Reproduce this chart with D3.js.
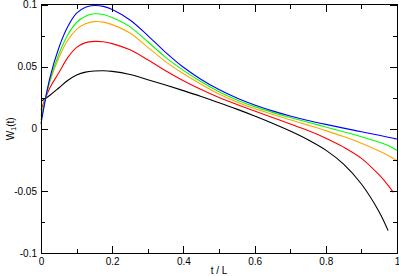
<!DOCTYPE html>
<html>
<head>
<meta charset="utf-8">
<script src="https://cdn.jsdelivr.net/npm/d3@7"></script>
<style>
  html, body { margin: 0; padding: 0; background: #fff; }
  svg { display: block; }
  text { font-family: "Liberation Sans", Arial, Helvetica, sans-serif; }
</style>
</head>
<body>
<svg id="chart" width="399" height="276"></svg>
<script>
// ---- data ----
const tGrid = [0, 0.025, 0.05, 0.075, 0.1, 0.125, 0.15, 0.175, 0.2, 0.25, 0.3, 0.35, 0.4, 0.45, 0.5, 0.55, 0.6, 0.65, 0.7, 0.75, 0.8, 0.85, 0.9, 0.95, 0.975, 0.99, 1.0];

const blueW = [0.004, 0.041, 0.065, 0.082, 0.093, 0.0978, 0.0992, 0.0985, 0.096, 0.0875, 0.075, 0.0615, 0.0495, 0.0397, 0.0315, 0.0247, 0.0191, 0.0144, 0.0103, 0.0067, 0.0035, 0.0005, -0.0024, -0.0053, -0.0068, -0.0077, -0.0083];
const greenW = [0.007, 0.039, 0.060, 0.0755, 0.0855, 0.0905, 0.0925, 0.092, 0.0895, 0.082, 0.070, 0.0575, 0.047, 0.0378, 0.0298, 0.0232, 0.0178, 0.0132, 0.0091, 0.0052, 0.0014, -0.0024, -0.0064, -0.0108, -0.0135, -0.0157, -0.0175];
const orangeW = [0.010, 0.038, 0.057, 0.0712, 0.080, 0.0845, 0.0862, 0.0858, 0.0838, 0.077, 0.0655, 0.054, 0.0442, 0.0358, 0.0279, 0.0216, 0.0163, 0.0116, 0.0072, 0.0029, -0.0015, -0.0063, -0.0117, -0.018, -0.0216, -0.024, -0.0258];
const redW = [0.015, 0.033, 0.045, 0.0572, 0.0655, 0.0693, 0.0703, 0.070, 0.0685, 0.0635, 0.0555, 0.0467, 0.0387, 0.0316, 0.0252, 0.0196, 0.0143, 0.0091, 0.0039, -0.0015, -0.0076, -0.0148, -0.0238, -0.0372, -0.0455, -0.0512, null];
const blackW = [0.022, 0.027, 0.0328, 0.0388, 0.0432, 0.0456, 0.0465, 0.0467, 0.0462, 0.0437, 0.0395, 0.0352, 0.0307, 0.026, 0.021, 0.0158, 0.0103, 0.0045, -0.0018, -0.0088, -0.0172, -0.0285, -0.0445, -0.067, -0.082, null, null];

const seriesNames = ["black", "red", "orange", "green", "blue"];
const seriesValues = [blackW, redW, orangeW, greenW, blueW];
const seriesColors = ["#000000", "#ff0000", "#ffa500", "#00ff00", "#0000ff"];

const xTicks = [0, 0.2, 0.4, 0.6, 0.8, 1];
const xTickLabels = ["0", "0.2", "0.4", "0.6", "0.8", "1"];
const xMinor = [0.1, 0.3, 0.5, 0.7, 0.9];
const yTicks = [-0.1, -0.05, 0, 0.05, 0.1];
const yTickLabels = ["-0.1", "-0.05", "0", "0.05", "0.1"];
const yMinor = [-0.075, -0.025, 0.025, 0.075];

// ---- layout ----
const svg = d3.select("#chart");
const mLeft = 41, mRight = 397, mTop = 4.5, mBottom = 253;

const x = d3.scaleLinear().domain([0, 1]).range([mLeft, mRight]);
const y = d3.scaleLinear().domain([-0.1, 0.1]).range([mBottom, mTop]);

// curves
const line = d3.line()
  .defined(d => d.v !== null)
  .x(d => x(d.t))
  .y(d => y(d.v))
  .curve(d3.curveCatmullRom.alpha(0.5));

const g = svg.append("g");
seriesValues.forEach((vals, i) => {
  const pts = tGrid.map((t, k) => ({ t: t, v: vals[k] }));
  g.append("path")
    .datum(pts)
    .attr("fill", "none")
    .attr("stroke", seriesColors[i])
    .attr("stroke-width", 1.1)
    .attr("d", line);
});

// axes
function styleAxis(sel) {
  sel.select(".domain").remove();
  sel.selectAll(".tick line").attr("stroke", "#000").attr("shape-rendering", "crispEdges");
  sel.selectAll(".tick text").attr("font-size", 10).attr("fill", "#000")
     .attr("font-family", "'Liberation Sans', Arial, sans-serif");
}

const fmtX = (d) => xTickLabels[xTicks.indexOf(d)];
const fmtY = (d) => yTickLabels[yTicks.indexOf(d)];

svg.append("g").attr("transform", `translate(0,${mBottom})`)
  .call(d3.axisBottom(x).tickValues(xTicks).tickFormat(fmtX).tickSize(-7).tickPadding(5))
  .call(styleAxis);
svg.append("g").attr("transform", `translate(0,${mBottom})`)
  .call(d3.axisBottom(x).tickValues(xMinor).tickFormat("").tickSize(-4))
  .call(styleAxis);
svg.append("g").attr("transform", `translate(0,${mTop})`)
  .call(d3.axisTop(x).tickValues(xTicks).tickFormat("").tickSize(-7))
  .call(styleAxis);
svg.append("g").attr("transform", `translate(0,${mTop})`)
  .call(d3.axisTop(x).tickValues(xMinor).tickFormat("").tickSize(-4))
  .call(styleAxis);

svg.append("g").attr("transform", `translate(${mLeft},0)`)
  .call(d3.axisLeft(y).tickValues(yTicks).tickFormat(fmtY).tickSize(-7).tickPadding(4))
  .call(styleAxis);
svg.append("g").attr("transform", `translate(${mLeft},0)`)
  .call(d3.axisLeft(y).tickValues(yMinor).tickFormat("").tickSize(-4))
  .call(styleAxis);
svg.append("g").attr("transform", `translate(${mRight},0)`)
  .call(d3.axisRight(y).tickValues(yTicks).tickFormat("").tickSize(-7))
  .call(styleAxis);
svg.append("g").attr("transform", `translate(${mRight},0)`)
  .call(d3.axisRight(y).tickValues(yMinor).tickFormat("").tickSize(-4))
  .call(styleAxis);

// frame
svg.append("rect")
  .attr("x", mLeft).attr("y", mTop)
  .attr("width", mRight - mLeft).attr("height", mBottom - mTop)
  .attr("fill", "none").attr("stroke", "#000").attr("stroke-width", 1)
  .attr("shape-rendering", "crispEdges");

// axis titles
svg.append("text")
  .attr("x", (mLeft + mRight) / 2).attr("y", 274)
  .attr("text-anchor", "middle").attr("font-size", 10)
  .text("t / L");

const yt = svg.append("text")
  .attr("transform", `translate(14,${(mTop + mBottom) / 2}) rotate(-90)`)
  .attr("text-anchor", "middle").attr("font-size", 10);
yt.append("tspan").text("W");
yt.append("tspan").attr("font-size", 7).attr("dy", 2).text("1");
yt.append("tspan").attr("dy", -2).text("(t)");
</script>
</body>
</html>
